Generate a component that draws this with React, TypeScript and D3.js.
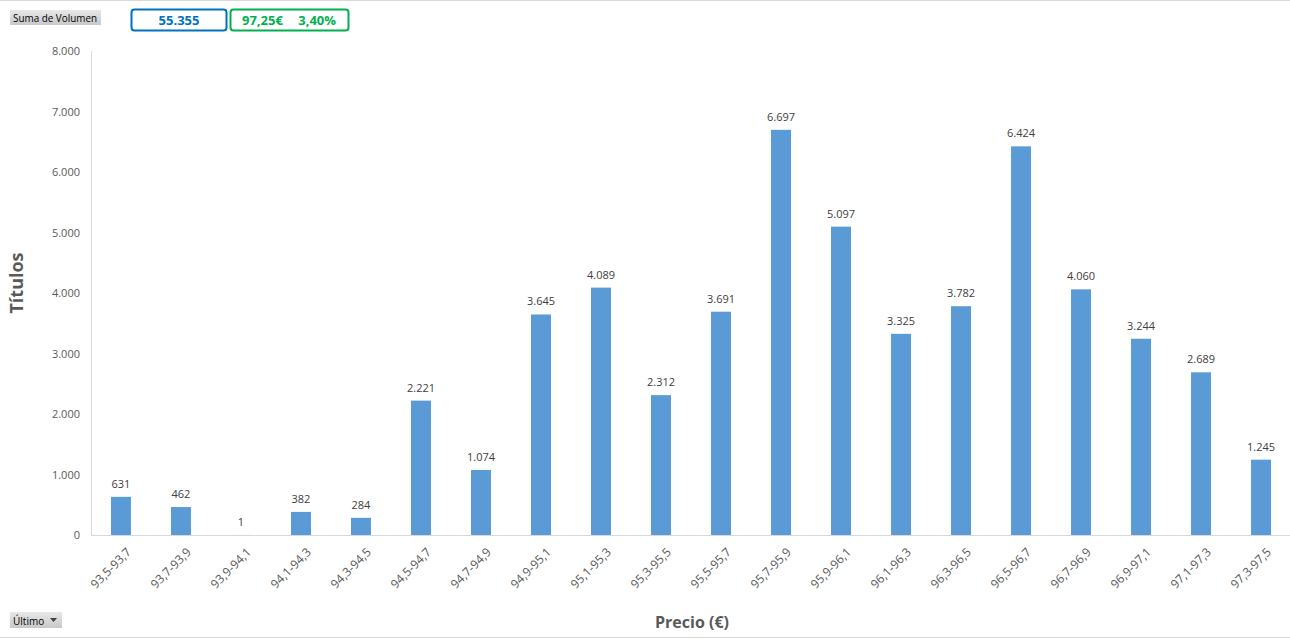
import React from "react";
import * as d3 from "d3";

const categories = ["93,5-93,7","93,7-93,9","93,9-94,1","94,1-94,3","94,3-94,5","94,5-94,7","94,7-94,9","94,9-95,1","95,1-95,3","95,3-95,5","95,5-95,7","95,7-95,9","95,9-96,1","96,1-96,3","96,3-96,5","96,5-96,7","96,7-96,9","96,9-97,1","97,1-97,3","97,3-97,5"];
const volumes = [631,462,1,382,284,2221,1074,3645,4089,2312,3691,6697,5097,3325,3782,6424,4060,3244,2689,1245];
const yTicks = [0,1000,2000,3000,4000,5000,6000,7000,8000];
const totalLabel = "55.355";
const priceLabel = "97,25€";
const changeLabel = "3,40%";

const W = 1290, H = 639;
const fmt = (v: number) => d3.format(",")(v).replace(/,/g, ".");
const FONT = "'Open Sans', 'Noto Sans', sans-serif";

export default function App() {
  const x = d3.scaleBand<string>().domain(categories).range([91, 1291]).paddingInner(0.667).paddingOuter(0.333);
  const y = d3.scaleLinear().domain([0, 8000]).range([535, 51]);
  return (
    <svg width={W} height={H} style={{ position: "absolute", left: 0, top: 0, background: "#fff" }} fontFamily={FONT}>
      <defs>
        <linearGradient id="btn" x1="0" y1="0" x2="0" y2="1">
          <stop offset="0" stopColor="#e8e8e8" />
          <stop offset="1" stopColor="#c8c8c8" />
        </linearGradient>
      </defs>
      <line x1={0} x2={W} y1={0.5} y2={0.5} stroke="#d9d9d9" />
      <line x1={0} x2={W} y1={637.5} y2={637.5} stroke="#d9d9d9" />
      {/* top controls */}
      <rect x={10} y={10} width={91} height={15} fill="url(#btn)" />
      <text x={13} y={21.5} fill="#000" style={{ fontSize: 10 }} textLength={84} lengthAdjust="spacingAndGlyphs">Suma de Volumen</text>
      <rect x={131.5} y={9.5} width={95} height={21} rx={3} fill="#fff" stroke="#0070C0" strokeWidth={2} />
      <text x={179} y={24.5} fontSize={13} fontWeight="bold" fill="#0070C0" textAnchor="middle">{totalLabel}</text>
      <rect x={230.5} y={9.5} width={118} height={21} rx={3} fill="#fff" stroke="#00B050" strokeWidth={2} />
      <text x={242} y={24.5} fontSize={13} fontWeight="bold" fill="#00B050">{priceLabel}</text>
      <text x={336} y={24.5} fontSize={13} fontWeight="bold" fill="#00B050" textAnchor="end">{changeLabel}</text>
      {/* axes */}
      <line x1={91.5} x2={91.5} y1={y(8000)} y2={y(0)} stroke="#d9d9d9" />
      <line x1={91} x2={1291} y1={y(0) + 0.5} y2={y(0) + 0.5} stroke="#d9d9d9" />
      {yTicks.map(t => (
        <text key={t} x={80} y={y(t) + 4} fontSize={11} fill="#595959" textAnchor="end">{fmt(t)}</text>
      ))}
      {categories.map((c, i) => {
        const cx = x(c)! + x.bandwidth() / 2;
        return (
          <g key={c}>
            <rect x={x(c)} y={y(volumes[i])} width={x.bandwidth()} height={y(0) - y(volumes[i])} fill="#5B9BD5" />
            <text x={cx} y={y(volumes[i]) - 9} fontSize={11} fill="#404040" textAnchor="middle">{fmt(volumes[i])}</text>
            <text transform={`translate(${cx + 5},${547}) rotate(-45)`} fontSize={12} fill="#595959" textAnchor="end" dy="0.7em">{c}</text>
          </g>
        );
      })}
      <text transform={`translate(23,283) rotate(-90)`} fontSize={18} fontWeight="bold" fill="#595959" textAnchor="middle">Títulos</text>
      <text x={692} y={628} fontSize={16} fontWeight="bold" fill="#595959" textAnchor="middle">Precio (€)</text>
      {/* bottom control */}
      <rect x={10} y={612} width={52} height={16} fill="url(#btn)" />
      <text x={13} y={624.5} fill="#000" style={{ fontSize: 10 }}>Último</text>
      <path d="M50,618 L57,618 L53.5,622 Z" fill="#404040" />
    </svg>
  );
}
